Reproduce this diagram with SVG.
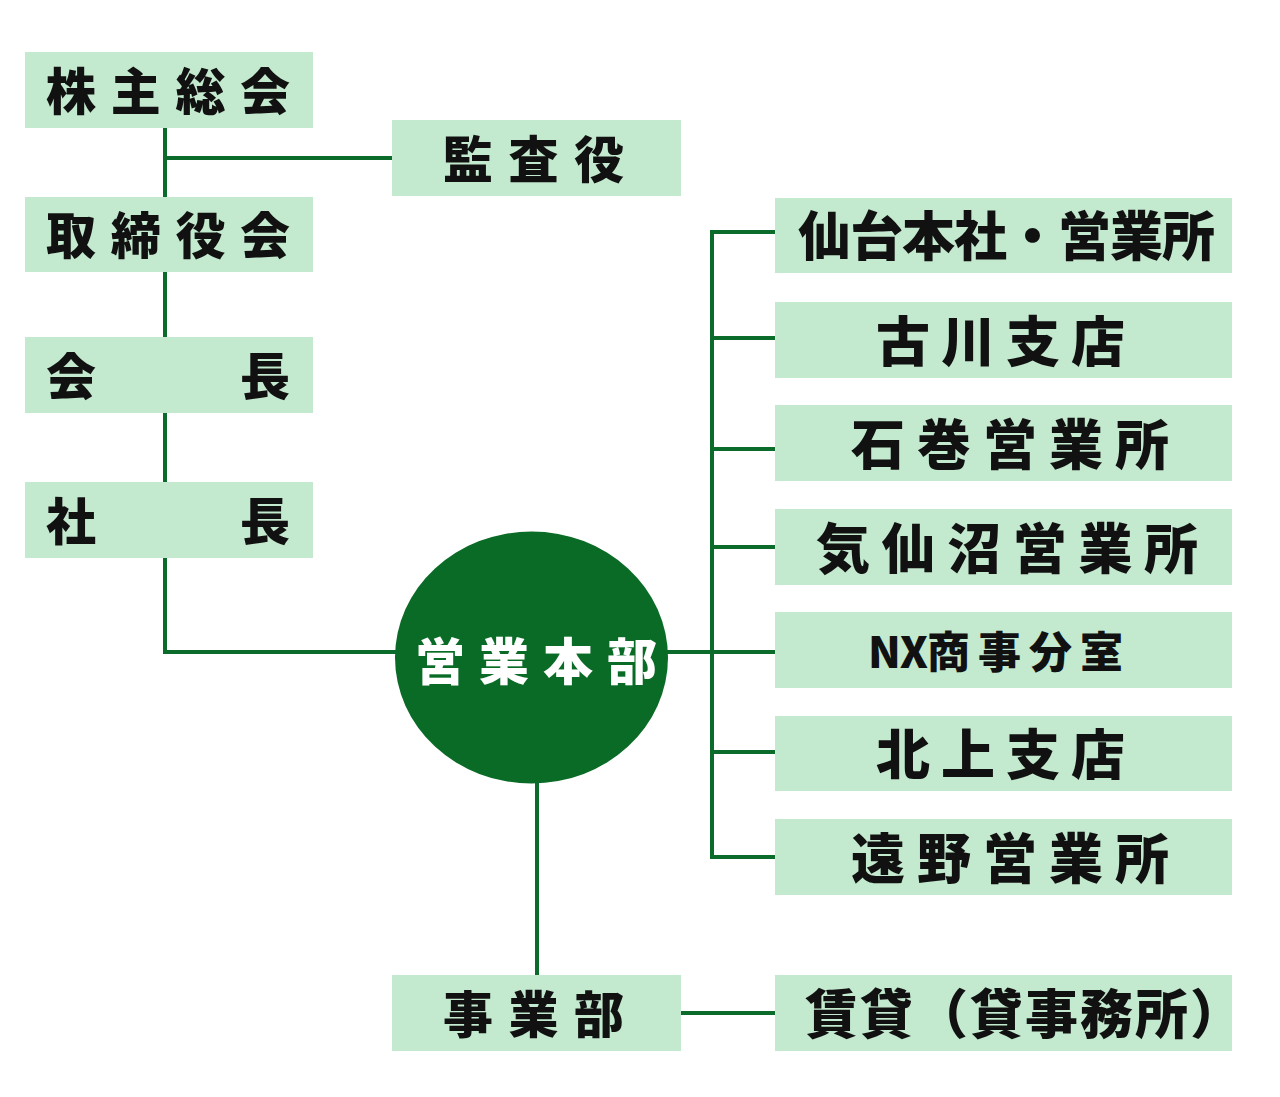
<svg xmlns="http://www.w3.org/2000/svg" width="1280" height="1097" viewBox="0 0 1280 1097">
<style>
.box{fill:#c3e9cf}
.t{font-family:"Noto Sans CJK JP","Noto Sans",sans-serif;font-weight:900;fill:#111;dominant-baseline:central}
.w{fill:#fff}
.ln{stroke:#0b6b2b;stroke-width:4;fill:none}
</style>
<rect width="1280" height="1097" fill="#fff"/>
<g id="connectors">
<path class="ln" d="M165 128V197M165 158H392M165 272V337M165 413V482M165 558V652H400"/>
<path class="ln" d="M665 652H775M712 230V859M710 232H775M712 338H775M712 449H775M712 547H775M712 752H775M710 857H775"/>
<path class="ln" d="M537 780V975M681 1013H775"/>
</g>
<g id="n-kabunushi"><rect class="box" x="25" y="52" width="288" height="76"/><text class="t" x="46" y="88" font-size="50" letter-spacing="14.7">株主総会</text></g>
<g id="n-kansayaku"><rect class="box" x="392" y="120" width="289" height="76"/><text class="t" x="443" y="156" font-size="50" letter-spacing="15.5">監査役</text></g>
<g id="n-torishimariyaku"><rect class="box" x="25" y="197" width="288" height="75"/><text class="t" x="46" y="232" font-size="50" letter-spacing="14.7">取締役会</text></g>
<g id="n-kaicho"><rect class="box" x="25" y="337" width="288" height="76"/><text class="t" x="46" y="373" font-size="50">会</text><text class="t" x="240" y="373" font-size="50">長</text></g>
<g id="n-shacho"><rect class="box" x="25" y="482" width="288" height="76"/><text class="t" x="46" y="518" font-size="50">社</text><text class="t" x="240" y="518" font-size="50">長</text></g>
<g id="n-eigyohonbu"><ellipse cx="531.5" cy="657.5" rx="136.5" ry="126" fill="#096b25"/><text class="t w" x="415" y="658" font-size="50" letter-spacing="14">営業本部</text></g>
<g id="n-sendai"><rect class="box" x="775" y="198" width="457" height="75"/><text class="t" x="798" y="233" font-size="53" letter-spacing="-1">仙台本社・営業所</text></g>
<g id="n-furukawa"><rect class="box" x="775" y="302" width="457" height="76"/><text class="t" x="876" y="338" font-size="54" letter-spacing="11">古川支店</text></g>
<g id="n-ishinomaki"><rect class="box" x="775" y="405" width="457" height="76"/><text class="t" x="851" y="441" font-size="54" letter-spacing="12">石巻営業所</text></g>
<g id="n-kesennuma"><rect class="box" x="775" y="509" width="457" height="76"/><text class="t" x="816" y="545" font-size="54" letter-spacing="11.6">気仙沼営業所</text></g>
<g id="n-nx"><rect class="box" x="775" y="612" width="457" height="76"/><text class="t" x="868" y="649" font-size="43"><tspan letter-spacing="-1">NX</tspan><tspan letter-spacing="8">商事分室</tspan></text></g>
<g id="n-kitakami"><rect class="box" x="775" y="716" width="457" height="75"/><text class="t" x="876" y="751" font-size="54" letter-spacing="11">北上支店</text></g>
<g id="n-tono"><rect class="box" x="775" y="819" width="457" height="76"/><text class="t" x="851" y="855" font-size="54" letter-spacing="12">遠野営業所</text></g>
<g id="n-jigyobu"><rect class="box" x="392" y="975" width="289" height="76"/><text class="t" x="443" y="1011" font-size="50" letter-spacing="15.5">事業部</text></g>
<g id="n-chintai"><rect class="box" x="775" y="975" width="457" height="76"/><text class="t" x="805" y="1011" font-size="53" letter-spacing="2">賃貸（貸事務所）</text></g>
</svg>
